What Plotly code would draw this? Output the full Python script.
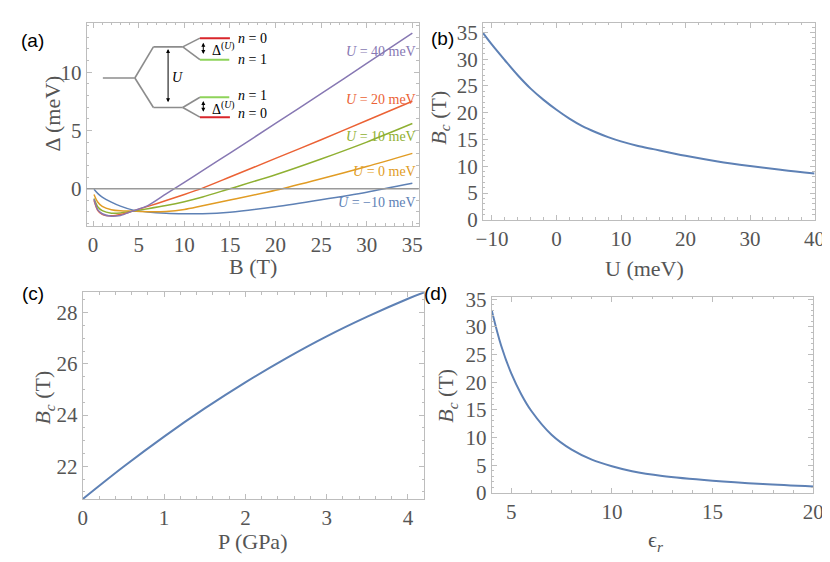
import plotly.graph_objects as go

# ---------------- data ----------------
# Panel (a): gap Delta vs B for several U
B_a = [0.1, 0.5, 1, 2, 3, 4.3, 6, 8, 10, 12, 15, 20, 25, 30, 35]
d_Um10 = [-0.05, -0.4, -0.72, -1.15, -1.5, -1.82, -2.0, -2.11, -2.15, -2.15, -2.02, -1.55, -0.95, -0.3, 0.46]
d_U0 = [-0.5, -1.15, -1.52, -1.8, -1.9, -1.93, -1.97, -1.95, -1.78, -1.46, -0.98, -0.14, 0.85, 1.9, 3.03]
d_U10 = [-0.85, -1.55, -1.88, -2.1, -2.08, -1.93, -1.72, -1.45, -1.12, -0.72, 0.0, 1.2, 2.55, 4.0, 5.59]
d_U20 = [-1.0, -1.85, -2.2, -2.33, -2.22, -1.93, -1.52, -1.02, -0.5, 0.05, 1.0, 2.6, 4.2, 5.85, 7.5]
d_U40 = [-0.9, -1.8, -2.15, -2.36, -2.3, -1.93, -1.45, -0.45, 0.55, 1.55, 3.05, 5.6, 8.15, 10.75, 13.36]
labels_a = ["<i>U</i> = \u221210 meV", "<i>U</i> = 0 meV", "<i>U</i> = 10 meV",
            "<i>U</i> = 20 meV", "<i>U</i> = 40 meV"]
label_y_a = [-1.19, 1.51, 4.46, 7.63, 11.76]

# Panel (b): Bc vs U
U_b = [-11.4, -10, -8, -6, -4, -2, 0, 2, 4, 6, 8, 10, 12.5, 15, 20, 25, 30, 35, 40]
Bc_b = [34.9, 32.7, 29.8, 27.0, 24.5, 22.4, 20.55, 18.9, 17.5, 16.4, 15.45, 14.65, 13.85, 13.2,
        11.95, 10.9, 10.05, 9.3, 8.65]

# Panel (c): Bc vs P
P_c = [0, 0.5, 1, 1.5, 2, 2.5, 3, 3.5, 4, 4.2]
Bc_c = [20.72, 21.98, 23.16, 24.26, 25.28, 26.22, 27.08, 27.85, 28.55, 28.8]

# Panel (d): Bc vs eps_r
eps_d = [4.03, 4.5, 5, 5.5, 6, 7, 8, 9, 10, 11, 12.5, 15, 17.5, 20]
Bc_d = [33.0, 26.6, 21.6, 17.8, 14.8, 10.5, 7.8, 6.0, 4.8, 3.9, 3.05, 2.2, 1.6, 1.16]

# ---------------- style ----------------
C_BLUE = "#5E81B5"
C_ORANGE = "#E19C24"
C_GREEN = "#8FB032"
C_RED = "#EB6235"
C_PURPLE = "#8778B3"
colors_a = [C_BLUE, C_ORANGE, C_GREEN, C_RED, C_PURPLE]
FRAME = "#BDBDBD"
TICKC = "#555555"
SERIF = "Liberation Serif, Times New Roman, serif"
SANS = "Liberation Sans, Arial, sans-serif"

fig = go.Figure()

for ys, col in zip([d_Um10, d_U0, d_U10, d_U20, d_U40], colors_a):
    fig.add_trace(go.Scatter(x=B_a, y=ys, mode="lines", line=dict(color=col, width=1.5, shape="spline", smoothing=0.8),
                             xaxis="x", yaxis="y", showlegend=False, hoverinfo="skip"))

fig.add_trace(go.Scatter(x=U_b, y=Bc_b, mode="lines", line=dict(color=C_BLUE, width=2, shape="spline"),
                         xaxis="x2", yaxis="y2", showlegend=False))
fig.add_trace(go.Scatter(x=P_c, y=Bc_c, mode="lines", line=dict(color=C_BLUE, width=2, shape="spline"),
                         xaxis="x3", yaxis="y3", showlegend=False))
fig.add_trace(go.Scatter(x=eps_d, y=Bc_d, mode="lines", line=dict(color=C_BLUE, width=2, shape="spline"),
                         xaxis="x4", yaxis="y4", showlegend=False))

TICKSIZE = 21


def ax(domain, rng, dtick, minor_dtick, anchor, tick0=0):
    return dict(domain=domain, range=rng, anchor=anchor, dtick=dtick, tick0=tick0,
                showgrid=False, zeroline=False, showline=True, linecolor=FRAME, linewidth=1,
                mirror="allticks", ticks="inside", ticklen=5, tickcolor=FRAME, tickwidth=1,
                tickfont=dict(family=SERIF, size=TICKSIZE, color=TICKC),
                minor=dict(ticks="inside", ticklen=2.5, tickcolor=FRAME, dtick=minor_dtick, showgrid=False))


W, H = 830, 562
def px(a, b):
    return [a / W, b / W]
def py(top, bottom):
    return [1 - bottom / H, 1 - top / H]

layout = dict(
    width=W, height=H, margin=dict(l=0, r=0, t=0, b=0),
    paper_bgcolor="white", plot_bgcolor="white", showlegend=False,
    xaxis=ax(px(73.3, 412.7), [-0.7, 35.7], 5, 1, "y"),
    yaxis=ax(py(6, 216.7), [-3.17, 14.24], 5, 1, "x"),
    xaxis2=ax(px(478.3, 817.3), [-11.4, 40], 10, 2, "y2"),
    yaxis2=ax(py(6, 210.7), [0, 36.8], 5, 1, "x2"),
    xaxis3=ax(px(69.3, 418.3), [0, 4.2], 1, 0.2, "y3"),
    yaxis3=ax(py(286, 500.7), [20.72, 28.8], 2, 0.5, "x3"),
    xaxis4=ax(px(487.3, 816), [4.03, 20], 5, 1, "y4"),
    yaxis4=ax(py(290.7, 494.3), [0, 35.45], 5, 1, "x4"),
)
fig.update_layout(**layout)

shapes = []
# zero line panel (a)
shapes.append(dict(type="line", xref="x domain", yref="y", x0=0, x1=1, y0=0, y1=0,
                   line=dict(color="#9A9A9A", width=1.6)))
# inset energy-level diagram (positions in data units of panel a)
GRAY = "#8C8C8C"
def seg(x0, y0, x1, y1, col=GRAY, w=1.6):
    shapes.append(dict(type="line", xref="x", yref="y", x0=x0, y0=y0, x1=x1, y1=y1,
                       line=dict(color=col, width=w)))
seg(1.07, 9.5, 4.58, 9.5)
seg(4.58, 9.5, 6.61, 12.17)
seg(6.61, 12.17, 9.83, 12.17)
seg(4.58, 9.5, 6.61, 6.97)
seg(6.61, 6.97, 9.83, 6.97)
seg(9.83, 12.17, 11.71, 12.92)
seg(9.83, 12.17, 11.71, 11.07)
seg(9.83, 6.97, 11.71, 7.85)
seg(9.83, 6.97, 11.71, 6.14)
seg(11.71, 12.92, 15.0, 12.92, "#D9262B", 2)
seg(11.71, 11.07, 14.93, 11.07, "#8ED35A", 2)
seg(11.71, 7.85, 14.93, 7.85, "#8ED35A", 2)
seg(11.71, 6.14, 15.0, 6.14, "#D9262B", 2)
fig.update_layout(shapes=shapes)

ann = []
def arrow(x, y0, y1):
    ann.append(dict(x=x, y=y1, ax=x, ay=y0, xref="x", yref="y", axref="x", ayref="y",
                    showarrow=True, arrowhead=2, arrowside="end+start", arrowsize=0.8,
                    arrowwidth=1, arrowcolor="black", text=""))
arrow(8.22, 7.3, 11.98)
arrow(12.08, 11.43, 12.53)
arrow(12.08, 6.47, 7.52)

def txt(x, y, s, size=13, col="black", fam=SERIF, xref="x", yref="y", xanchor="center", angle=0):
    ann.append(dict(x=x, y=y, xref=xref, yref=yref, text=s, showarrow=False,
                    font=dict(family=fam, size=size, color=col), xanchor=xanchor,
                    yanchor="middle", textangle=angle))

txt(9.25, 9.5, "<i>U</i>", 14)
txt(14.3, 12.0, "\u0394<sup>(<i>U</i>)</sup>", 14)
txt(14.3, 6.95, "\u0394<sup>(<i>U</i>)</sup>", 14)
txt(17.5, 12.86, "<i>n</i> = 0", 14)
txt(17.5, 11.07, "<i>n</i> = 1", 14)
txt(17.5, 7.98, "<i>n</i> = 1", 14)
txt(17.5, 6.47, "<i>n</i> = 0", 14)

for s, yv, col in zip(labels_a, label_y_a, colors_a):
    txt(35.6, yv, s, 14, col, SERIF, xanchor="right")

# panel labels
for s, xx, yy in [("(a)", 18, 24), ("(b)", 437, 22), ("(c)", 18, 287), ("(d)", 430, 287)]:
    txt(xx / W, 1 - yy / H, s, 19, "black", SANS, "paper", "paper")

# axis titles
TT = 22
txt(243 / W, 1 - 259 / H, "B (T)", TT, TICKC, SERIF, "paper", "paper")
txt(38 / W, 1 - 100 / H, "\u0394 (meV)", TT, TICKC, SERIF, "paper", "paper", angle=-90)
txt(643 / W, 1 - 261 / H, "U (meV)", TT, TICKC, SERIF, "paper", "paper")
txt(434 / W, 1 - 105 / H, "<i>B<sub>c</sub></i> (T)", TT, TICKC, SERIF, "paper", "paper", angle=-90)
txt(243 / W, 1 - 545 / H, "P (GPa)", TT, TICKC, SERIF, "paper", "paper")
txt(30 / W, 1 - 395 / H, "<i>B<sub>c</sub></i> (T)", TT, TICKC, SERIF, "paper", "paper", angle=-90)
txt(655 / W, 1 - 544 / H, "\u03f5<sub><i>r</i></sub>", TT, TICKC, SERIF, "paper", "paper")
txt(442 / W, 1 - 393 / H, "<i>B<sub>c</sub></i> (T)", TT, TICKC, SERIF, "paper", "paper", angle=-90)

fig.update_layout(annotations=ann)
fig.write_html("out.html")
